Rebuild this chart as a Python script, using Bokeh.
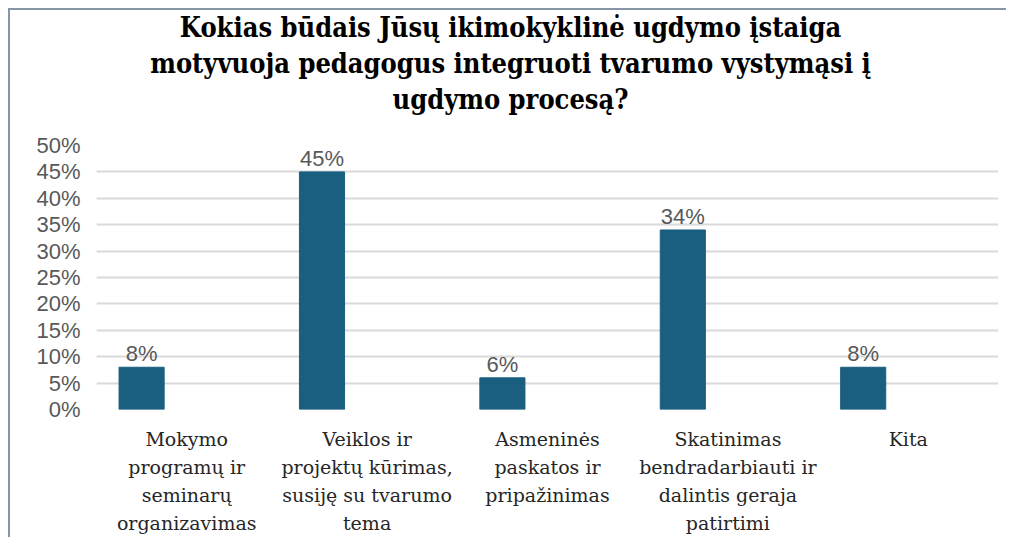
from bokeh.plotting import figure
from bokeh.layouts import column
from bokeh.models import ColumnDataSource, FixedTicker, NumeralTickFormatter, Range1d
from bokeh.core.properties import value
from bokeh.embed import file_html
from bokeh.resources import INLINE

title_lines = [
    "Kokias būdais Jūsų ikimokyklinė ugdymo įstaiga",
    "motyvuoja pedagogus integruoti tvarumo vystymąsi į",
    "ugdymo procesą?",
]
categories = [
    "Mokymo\nprogramų ir\nseminarų\norganizavimas",
    "Veiklos ir\nprojektų kūrimas,\nsusiję su tvarumo\ntema",
    "Asmeninės\npaskatos ir\npripažinimas",
    "Skatinimas\nbendradarbiauti ir\ndalintis geraja\npatirtimi",
    "Kita",
]
values = [0.08, 0.45, 0.06, 0.34, 0.08]
value_labels = ["8%", "45%", "6%", "34%", "8%"]
y_ticks = [0.0, 0.05, 0.10, 0.15, 0.20, 0.25, 0.30, 0.35, 0.40, 0.45, 0.50]

SANS = "Liberation Sans, Arial, Roboto, sans-serif"
TITLE_FONT = "DejaVu Serif Condensed"
LABEL_FONT = "DejaVu Serif"

FRAME_W = 902
BORDER_L, BORDER_R = 86, 8
TITLE_H = 120

# ---- title block (separate figure, same frame as the chart below)
tfig = figure(frame_width=FRAME_W, height=TITLE_H, output_backend="svg", toolbar_location=None,
              x_range=Range1d(0, FRAME_W), y_range=Range1d(0, TITLE_H),
              x_axis_type=None, y_axis_type=None,
              min_border_left=BORDER_L, min_border_right=BORDER_R,
              min_border_top=0, min_border_bottom=0)
tfig.outline_line_color = None
tfig.grid.visible = False
tsrc = ColumnDataSource(dict(x=[414, 414, 414], y=[103, 67, 31], t=title_lines))
tfig.text(x="x", y="y", text="t", source=tsrc, text_align="center", text_baseline="middle",
          text_font=value(TITLE_FONT), text_font_size="27px", text_font_style="bold",
          text_color="#000000")

# ---- bar chart
n = len(categories)
bar_x = [i + 0.25 for i in range(n)]
src = ColumnDataSource(dict(x=bar_x, top=values, lab=value_labels))

p = figure(frame_width=FRAME_W, frame_height=264, output_backend="svg", toolbar_location=None,
           x_range=Range1d(0, n), y_range=Range1d(0, 0.5),
           min_border_left=BORDER_L, min_border_right=BORDER_R, min_border_top=15,
           min_border_bottom=128)

p.vbar(x="x", top="top", width=0.25, source=src, color="#1A5E80")
p.text(x="x", y="top", text="lab", source=src, text_align="center",
       text_baseline="bottom", y_offset=-1, text_font=value(SANS),
       text_font_size="22px", text_color="#595959")

p.outline_line_color = None
p.xgrid.grid_line_color = None
p.ygrid.grid_line_color = "#D9D9D9"
p.ygrid.grid_line_width = 2
p.ygrid.ticker = FixedTicker(ticks=y_ticks)

p.yaxis.ticker = FixedTicker(ticks=y_ticks)
p.yaxis.formatter = NumeralTickFormatter(format="0%")
p.yaxis.axis_line_color = None
p.yaxis.major_tick_line_color = None
p.yaxis.minor_tick_line_color = None
p.yaxis.major_tick_out = 0
p.yaxis.major_label_standoff = 16
p.yaxis.major_label_text_font = SANS
p.yaxis.major_label_text_font_size = "22px"
p.yaxis.major_label_text_color = "#595959"

p.xaxis.ticker = FixedTicker(ticks=[i + 0.5 for i in range(n)])
p.xaxis.major_label_overrides = {i + 0.5: c for i, c in enumerate(categories)}
p.xaxis.axis_line_color = None
p.xaxis.major_tick_line_color = None
p.xaxis.minor_tick_line_color = None
p.xaxis.major_tick_out = 0
p.xaxis.major_label_standoff = 18
p.xaxis.major_label_text_font = LABEL_FONT
p.xaxis.major_label_text_font_size = "19px"
p.xaxis.major_label_text_color = "#262626"
p.xaxis.major_label_text_line_height = 1.28

layout = column(tfig, p, spacing=0)
layout.styles = {"margin-top": "8px", "margin-left": "8px",
                 "border-top": "2px solid #8696A6", "border-left": "2px solid #8696A6"}

open("out.html", "w").write(file_html(layout, INLINE))
